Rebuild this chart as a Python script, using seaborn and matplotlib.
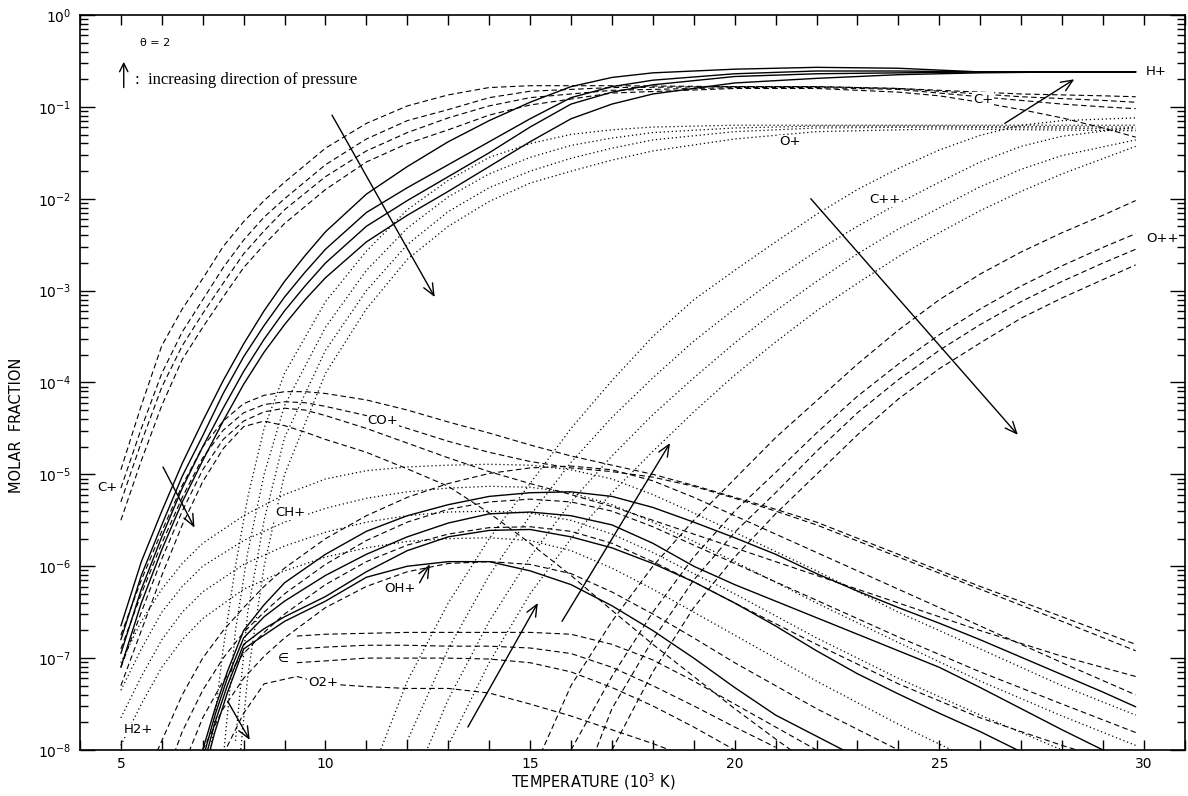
import numpy as np
import pandas as pd
import seaborn as sns
import matplotlib.pyplot as plt
from matplotlib.ticker import MultipleLocator, FixedLocator, FuncFormatter, NullFormatter

nan = np.nan

# valores: log10(fraccion molar), cuatro presiones por especie

# H+ (continua)
t_hp = [5, 5.5, 6, 6.5, 7, 7.5, 8, 8.5, 9, 9.5, 10, 11, 12, 13, 14, 15, 16, 17, 18, 20, 22, 24, 26, 28, 29.8]
hp = [
    [-6.65, -5.95, -5.4, -4.88, -4.42, -3.98, -3.58, -3.22, -2.9, -2.62, -2.36, -1.95, -1.65, -1.38, -1.15, -0.95, -0.78, -0.68, -0.63, -0.59, -0.57, -0.58, -0.62, -0.62, -0.62],
    [-6.8, -6.1, -5.55, -5.02, -4.58, -4.12, -3.72, -3.38, -3.07, -2.8, -2.55, -2.15, -1.88, -1.63, -1.38, -1.13, -0.9, -0.78, -0.71, -0.64, -0.61, -0.61, -0.62, -0.62, -0.62],
    [-6.95, -6.25, -5.68, -5.15, -4.7, -4.28, -3.88, -3.53, -3.22, -2.95, -2.7, -2.3, -2.02, -1.76, -1.5, -1.22, -0.97, -0.84, -0.76, -0.67, -0.64, -0.63, -0.62, -0.62, -0.62],
    [-7.1, -6.4, -5.82, -5.3, -4.85, -4.42, -4.02, -3.67, -3.37, -3.1, -2.86, -2.47, -2.18, -1.92, -1.65, -1.38, -1.13, -0.97, -0.86, -0.74, -0.69, -0.65, -0.63, -0.62, -0.62],
]

# C+ (discontinua)
t_cp = [5, 5.5, 6, 6.5, 7, 7.5, 8, 8.5, 9, 10, 11, 12, 13, 14, 15, 17, 20, 22, 24, 25, 26, 27, 28, 29, 29.8]
cp = [
    [-4.95, -4.25, -3.6, -3.2, -2.87, -2.52, -2.25, -2.02, -1.82, -1.45, -1.18, -0.99, -0.87, -0.79, -0.77, -0.77, -0.78, -0.78, -0.8, -0.82, -0.84, -0.86, -0.87, -0.88, -0.89],
    [-5.15, -4.5, -3.9, -3.45, -3.1, -2.75, -2.45, -2.2, -2.0, -1.63, -1.35, -1.15, -1.03, -0.9, -0.83, -0.79, -0.78, -0.78, -0.8, -0.83, -0.86, -0.89, -0.91, -0.93, -0.95],
    [-5.3, -4.65, -4.05, -3.6, -3.25, -2.92, -2.6, -2.35, -2.12, -1.76, -1.48, -1.28, -1.12, -0.99, -0.9, -0.82, -0.79, -0.79, -0.81, -0.85, -0.89, -0.93, -0.97, -1.0, -1.02],
    [-5.5, -4.85, -4.25, -3.75, -3.4, -3.07, -2.75, -2.5, -2.27, -1.9, -1.6, -1.4, -1.25, -1.09, -0.98, -0.85, -0.8, -0.8, -0.84, -0.88, -0.95, -1.03, -1.12, -1.23, -1.33],
]

# O+ (punteada)
t_op = [7.2, 7.5, 7.8, 8.1, 8.5, 9, 10, 11, 12, 13, 14, 15, 16, 17, 18, 20, 22, 25, 29.8]
op = [
    [-8.0, -6.9, -6.0, -5.25, -4.5, -3.9, -3.12, -2.57, -2.12, -1.8, -1.55, -1.4, -1.3, -1.25, -1.22, -1.2, -1.2, -1.2, -1.2],
    [nan, -8.1, -6.7, -5.85, -5.0, -4.25, -3.4, -2.78, -2.32, -1.98, -1.73, -1.55, -1.42, -1.34, -1.28, -1.23, -1.21, -1.21, -1.22],
    [nan, nan, -7.9, -6.5, -5.5, -4.6, -3.65, -3.0, -2.5, -2.14, -1.88, -1.7, -1.56, -1.45, -1.36, -1.27, -1.23, -1.22, -1.24],
    [nan, nan, -8.6, -7.2, -6.0, -5.0, -3.9, -3.2, -2.66, -2.3, -2.03, -1.83, -1.7, -1.58, -1.48, -1.35, -1.27, -1.24, -1.26],
]

# C++ (punteada)
t_cpp = [11, 12, 13, 14, 15, 16, 17, 18, 19, 20, 21, 22, 23, 24, 25, 26, 27, 28, 29.8]
cpp = [
    [-8.4, -7.25, -6.4, -5.7, -5.1, -4.5, -3.98, -3.5, -3.1, -2.78, -2.47, -2.17, -1.9, -1.67, -1.47, -1.31, -1.2, -1.15, -1.12],
    [nan, -7.9, -6.9, -6.1, -5.45, -4.87, -4.38, -3.95, -3.55, -3.2, -2.87, -2.57, -2.3, -2.05, -1.82, -1.6, -1.43, -1.32, -1.22],
    [nan, -8.5, -7.45, -6.6, -5.9, -5.3, -4.8, -4.35, -3.95, -3.57, -3.22, -2.9, -2.6, -2.33, -2.1, -1.87, -1.68, -1.53, -1.36],
    [nan, nan, -7.95, -7.05, -6.3, -5.7, -5.2, -4.75, -4.32, -3.92, -3.56, -3.22, -2.92, -2.63, -2.37, -2.13, -1.92, -1.73, -1.43],
]

# O++ (discontinua)
t_opp = [15, 16, 17, 18, 19, 20, 21, 22, 23, 24, 25, 26, 27, 28, 29, 29.8]
opp = [
    [-8.3, -7.3, -6.6, -6.0, -5.5, -5.05, -4.6, -4.2, -3.8, -3.43, -3.1, -2.82, -2.58, -2.37, -2.18, -2.02],
    [nan, -8.0, -7.2, -6.5, -5.9, -5.4, -4.98, -4.55, -4.15, -3.8, -3.48, -3.2, -2.95, -2.73, -2.53, -2.38],
    [nan, -8.7, -7.55, -6.8, -6.15, -5.63, -5.2, -4.75, -4.33, -3.97, -3.65, -3.37, -3.12, -2.9, -2.7, -2.55],
    [nan, nan, -8.0, -7.15, -6.45, -5.9, -5.43, -5.0, -4.57, -4.18, -3.85, -3.57, -3.3, -3.08, -2.88, -2.72],
]

# CO+ (discontinua)
t_co = [5, 5.5, 6, 6.5, 7, 7.5, 8, 8.5, 9, 9.5, 10, 11, 12, 13, 14, 15, 16, 17, 18, 19, 20, 21, 22, 24, 26, 28, 29.8]
co = [
    [-6.75, -6.15, -5.62, -5.12, -4.7, -4.42, -4.23, -4.14, -4.1, -4.1, -4.12, -4.19, -4.3, -4.43, -4.55, -4.68, -4.8, -4.9, -5.0, -5.12, -5.25, -5.38, -5.52, -5.87, -6.22, -6.55, -6.85],
    [-6.9, -6.3, -5.75, -5.25, -4.82, -4.52, -4.33, -4.24, -4.21, -4.22, -4.26, -4.36, -4.5, -4.64, -4.76, -4.86, -4.93, -4.97, -5.03, -5.13, -5.26, -5.4, -5.55, -5.9, -6.25, -6.6, -6.92],
    [-7.1, -6.5, -5.92, -5.4, -4.95, -4.62, -4.42, -4.32, -4.28, -4.3, -4.36, -4.5, -4.66, -4.82, -4.97, -5.1, -5.22, -5.35, -5.5, -5.65, -5.8, -5.95, -6.1, -6.4, -6.7, -6.98, -7.2],
    [-7.3, -6.7, -6.1, -5.55, -5.08, -4.72, -4.48, -4.42, -4.47, -4.54, -4.62, -4.76, -4.94, -5.13, -5.42, -5.75, -6.1, -6.48, -6.85, -7.2, -7.55, -7.88, -8.2, nan, nan, nan, nan],
]

# CH+ (punteada)
t_ch = [5, 5.5, 6, 6.5, 7, 8, 9, 10, 11, 12, 13, 14, 15, 16, 17, 18, 19, 20, 22, 24, 26, 28, 29.8]
ch = [
    [-7.05, -6.6, -6.25, -5.97, -5.75, -5.45, -5.22, -5.05, -4.96, -4.92, -4.9, -4.89, -4.9, -4.95, -5.05, -5.22, -5.42, -5.63, -6.05, -6.5, -6.9, -7.3, -7.62],
    [-7.35, -6.9, -6.5, -6.22, -6.0, -5.72, -5.52, -5.37, -5.26, -5.19, -5.15, -5.13, -5.14, -5.2, -5.33, -5.52, -5.73, -5.95, -6.4, -6.83, -7.25, -7.63, -7.95],
    [-7.65, -7.2, -6.8, -6.5, -6.28, -5.98, -5.78, -5.63, -5.52, -5.45, -5.41, -5.4, -5.42, -5.5, -5.65, -5.85, -6.08, -6.3, -6.78, -7.22, -7.62, -8.0, nan],
    [-7.95, -7.5, -7.1, -6.8, -6.57, -6.25, -6.05, -5.9, -5.8, -5.73, -5.7, -5.69, -5.72, -5.83, -6.02, -6.25, -6.5, -6.75, -7.25, -7.72, -8.15, nan, nan],
]

# OH+ (continua)
t_oh = [7.0, 7.3, 7.6, 8, 8.5, 9, 10, 11, 12, 13, 14, 15, 16, 17, 18, 19, 20, 21, 22, 23, 24, 25, 26, 27, 28, 29, 29.8]
oh = [
    [-8.0, -7.55, -7.15, -6.7, -6.42, -6.18, -5.87, -5.62, -5.45, -5.33, -5.24, -5.2, -5.19, -5.24, -5.36, -5.52, -5.69, -5.87, -6.08, -6.27, -6.45, -6.62, -6.8, -6.99, -7.18, -7.37, -7.53],
    [-8.1, -7.62, -7.22, -6.78, -6.55, -6.38, -6.1, -5.87, -5.68, -5.53, -5.43, -5.41, -5.45, -5.55, -5.75, -6.0, -6.2, -6.38, -6.56, -6.74, -6.92, -7.1, -7.32, -7.55, -7.78, -8.0, nan],
    [-8.2, -7.7, -7.3, -6.85, -6.68, -6.55, -6.33, -6.06, -5.83, -5.68, -5.61, -5.6, -5.68, -5.8, -5.97, -6.17, -6.4, -6.65, -6.92, -7.17, -7.39, -7.6, -7.8, -8.02, nan, nan, nan],
    [-8.3, -7.8, -7.38, -6.9, -6.75, -6.6, -6.38, -6.12, -6.0, -5.95, -5.95, -6.05, -6.2, -6.43, -6.7, -7.0, -7.32, -7.62, -7.85, -8.08, nan, nan, nan, nan, nan, nan, nan],
]

# O2+ (discontinua)
t_o2 = [7.5, 8, 8.5, 9.3, 10, 11, 12, 13, 14, 15, 16, 17, 18, 19, 20, 21, 22]
o2 = [
    [nan, nan, nan, -6.76, -6.74, -6.73, -6.72, -6.72, -6.72, -6.72, -6.74, -6.85, -7.02, -7.25, -7.5, -7.75, -8.0],
    [nan, nan, nan, -6.9, -6.88, -6.86, -6.86, -6.87, -6.87, -6.89, -6.95, -7.1, -7.3, -7.52, -7.75, -7.97, nan],
    [nan, nan, nan, -7.05, -7.03, -7.0, -7.0, -7.0, -7.01, -7.05, -7.15, -7.32, -7.52, -7.75, -8.0, nan, nan],
    [-8.05, -7.6, -7.28, -7.2, -7.28, -7.31, -7.33, -7.33, -7.38, -7.5, -7.63, -7.78, -7.93, -8.1, nan, nan, nan],
]

# H2+ (discontinua)
t_h2 = [5.8, 6, 6.5, 7, 7.5, 8, 8.5, 9, 10, 11, 12, 13, 14, 15, 16, 17, 18, 19, 20, 22, 24, 26, 28, 29.8]
h2 = [
    [-8.1, -7.9, -7.4, -7.0, -6.7, -6.45, -6.22, -6.02, -5.7, -5.45, -5.25, -5.1, -4.99, -4.93, -4.91, -4.95, -5.07, -5.25, -5.45, -5.85, -6.25, -6.65, -7.05, -7.4],
    [nan, -8.4, -7.8, -7.35, -7.0, -6.72, -6.5, -6.3, -5.98, -5.72, -5.52, -5.38, -5.3, -5.27, -5.3, -5.4, -5.57, -5.77, -5.97, -6.37, -6.77, -7.15, -7.5, -7.81],
    [nan, nan, -8.2, -7.65, -7.25, -6.95, -6.72, -6.52, -6.2, -5.95, -5.77, -5.65, -5.58, -5.57, -5.62, -5.75, -5.95, -6.17, -6.4, -6.85, -7.28, -7.65, -7.95, -8.2],
    [nan, nan, nan, -8.0, -7.55, -7.22, -6.98, -6.78, -6.45, -6.22, -6.06, -5.97, -5.95, -5.98, -6.08, -6.28, -6.52, -6.78, -7.05, -7.55, -8.0, nan, nan, nan],
]

# armar tabla larga
familias = [
    ("H+", "solida", t_hp, hp), ("C+", "guiones", t_cp, cp), ("O+", "puntos", t_op, op),
    ("C++", "puntos", t_cpp, cpp), ("O++", "guiones", t_opp, opp), ("CO+", "guiones", t_co, co),
    ("CH+", "puntos", t_ch, ch), ("OH+", "solida", t_oh, oh), ("O2+", "guiones", t_o2, o2),
    ("H2+", "guiones", t_h2, h2),
]
filas = []
for nombre, estilo, t, curvas in familias:
    for i, c in enumerate(curvas):
        for x, v in zip(t, c):
            filas.append({"T": x, "log": v, "curva": f"{nombre}_{i}", "estilo": estilo})
df = pd.DataFrame(filas).dropna()
df["frac"] = 10.0 ** df["log"]

sns.set_theme(style="ticks")
plt.rcParams["font.family"] = ["DejaVu Sans"]
plt.rcParams["mathtext.fontset"] = "dejavusans"
plt.rcParams["text.color"] = "black"

fig = plt.figure(figsize=(11.88, 7.96), dpi=100)
ax = fig.add_axes([0.0673, 0.0578, 0.930, 0.9234])
ax.set_yscale("log")

estilos = {
    "solida": dict(linestyle="-", lw=1.0),
    "guiones": dict(linestyle=(0, (5, 3)), lw=0.8),
    "puntos": dict(linestyle=(0, (1, 2.2)), lw=0.9),
}
for estilo, kw in estilos.items():
    sub = df[df["estilo"] == estilo]
    sns.lineplot(data=sub, x="T", y="frac", units="curva", estimator=None, sort=False,
                 color="black", legend=False, ax=ax, **kw)

ax.set_xlim(4, 31)
ax.set_ylim(1e-8, 1)
ax.set_xticks([5, 10, 15, 20, 25, 30])
ax.xaxis.set_minor_locator(MultipleLocator(1))
decadas = [10.0 ** k for k in range(-8, 1)]
menores = [m * 10.0 ** k for k in range(-8, 0) for m in range(2, 10)]
ax.yaxis.set_major_locator(FixedLocator(decadas))
ax.yaxis.set_minor_locator(FixedLocator(menores))
ax.yaxis.set_minor_formatter(NullFormatter())
ax.yaxis.set_major_formatter(FuncFormatter(lambda v, p: f"$10^{{{int(round(np.log10(v)))}}}$"))
ax.tick_params(which="both", direction="in", top=True, right=True, width=1, colors="black", labelsize=10)
ax.tick_params(axis="x", which="both", length=7, pad=5)
ax.tick_params(axis="y", which="major", length=11, pad=6)
ax.tick_params(axis="y", which="minor", length=6)
for s in ax.spines.values():
    s.set_linewidth(1.2)
    s.set_color("black")
ax.set_xlabel(None)
ax.set_ylabel(None)

fig.text(0.014, 1 - 425 / 796, "MOLAR  FRACTION", rotation=90, ha="center", va="center", fontsize=10.5)
fig.text(593 / 1188, 1 - 782 / 796, "TEMPERATURE (10$^3$ K)", ha="center", va="center", fontsize=10.5)

# etiquetas de especies
etiquetas = [("H+", 30.05, -0.62, "left"), ("C+", 26.07, -0.92, "center"), ("O+", 21.35, -1.38, "center"),
             ("C++", 23.67, -2.01, "center"), ("O++", 30.05, -2.43, "left"), ("CO+", 11.4, -4.41, "center"),
             ("C+", 4.68, -5.14, "center"), ("CH+", 9.13, -5.42, "center"), ("OH+", 11.82, -6.24, "center"),
             ("O2+", 9.94, -7.26, "center"), ("H2+", 5.42, -7.78, "center")]
for txt, x, l, ha in etiquetas:
    ax.text(x, 10 ** l, txt, ha=ha, va="center", fontsize=9.5,
            bbox=dict(facecolor="white", edgecolor="none", pad=0.5))
ax.text(8.96, 10 ** -7.0, "\u2208", ha="center", va="center", fontsize=9)

# flechas de presion creciente
flechas = [((10.16, -1.09), (12.67, -3.07)), ((26.6, -1.18), (28.3, -0.70)),
           ((21.86, -2.0), (26.92, -4.57)), ((6.03, -4.92), (6.8, -5.58)),
           ((15.78, -6.60), (18.42, -4.66)), ((13.48, -7.75), (15.19, -6.40)),
           ((7.61, -7.47), (8.15, -7.89)), ((12.3, -6.18), (12.55, -5.98))]
for (x0, l0), (x1, l1) in flechas:
    ax.annotate("", xy=(x1, 10 ** l1), xytext=(x0, 10 ** l0),
                arrowprops=dict(arrowstyle="->,head_length=0.7,head_width=0.3", lw=1.0, color="black",
                                shrinkA=0, shrinkB=0))

# leyenda manual
ax.text(5.46, 10 ** -0.30, "\u03b8 = 2", ha="left", va="center", fontsize=8)
ax.annotate("", xy=(5.07, 10 ** -0.51), xytext=(5.07, 10 ** -0.79),
            arrowprops=dict(arrowstyle="->,head_length=0.5,head_width=0.25", lw=1.0, color="black",
                            shrinkA=0, shrinkB=0))
ax.text(5.34, 10 ** -0.71, ":  increasing direction of pressure", ha="left", va="center",
        fontsize=12, family=["Liberation Serif", "DejaVu Serif"])

fig.savefig("out.png", dpi=100, facecolor="white")
